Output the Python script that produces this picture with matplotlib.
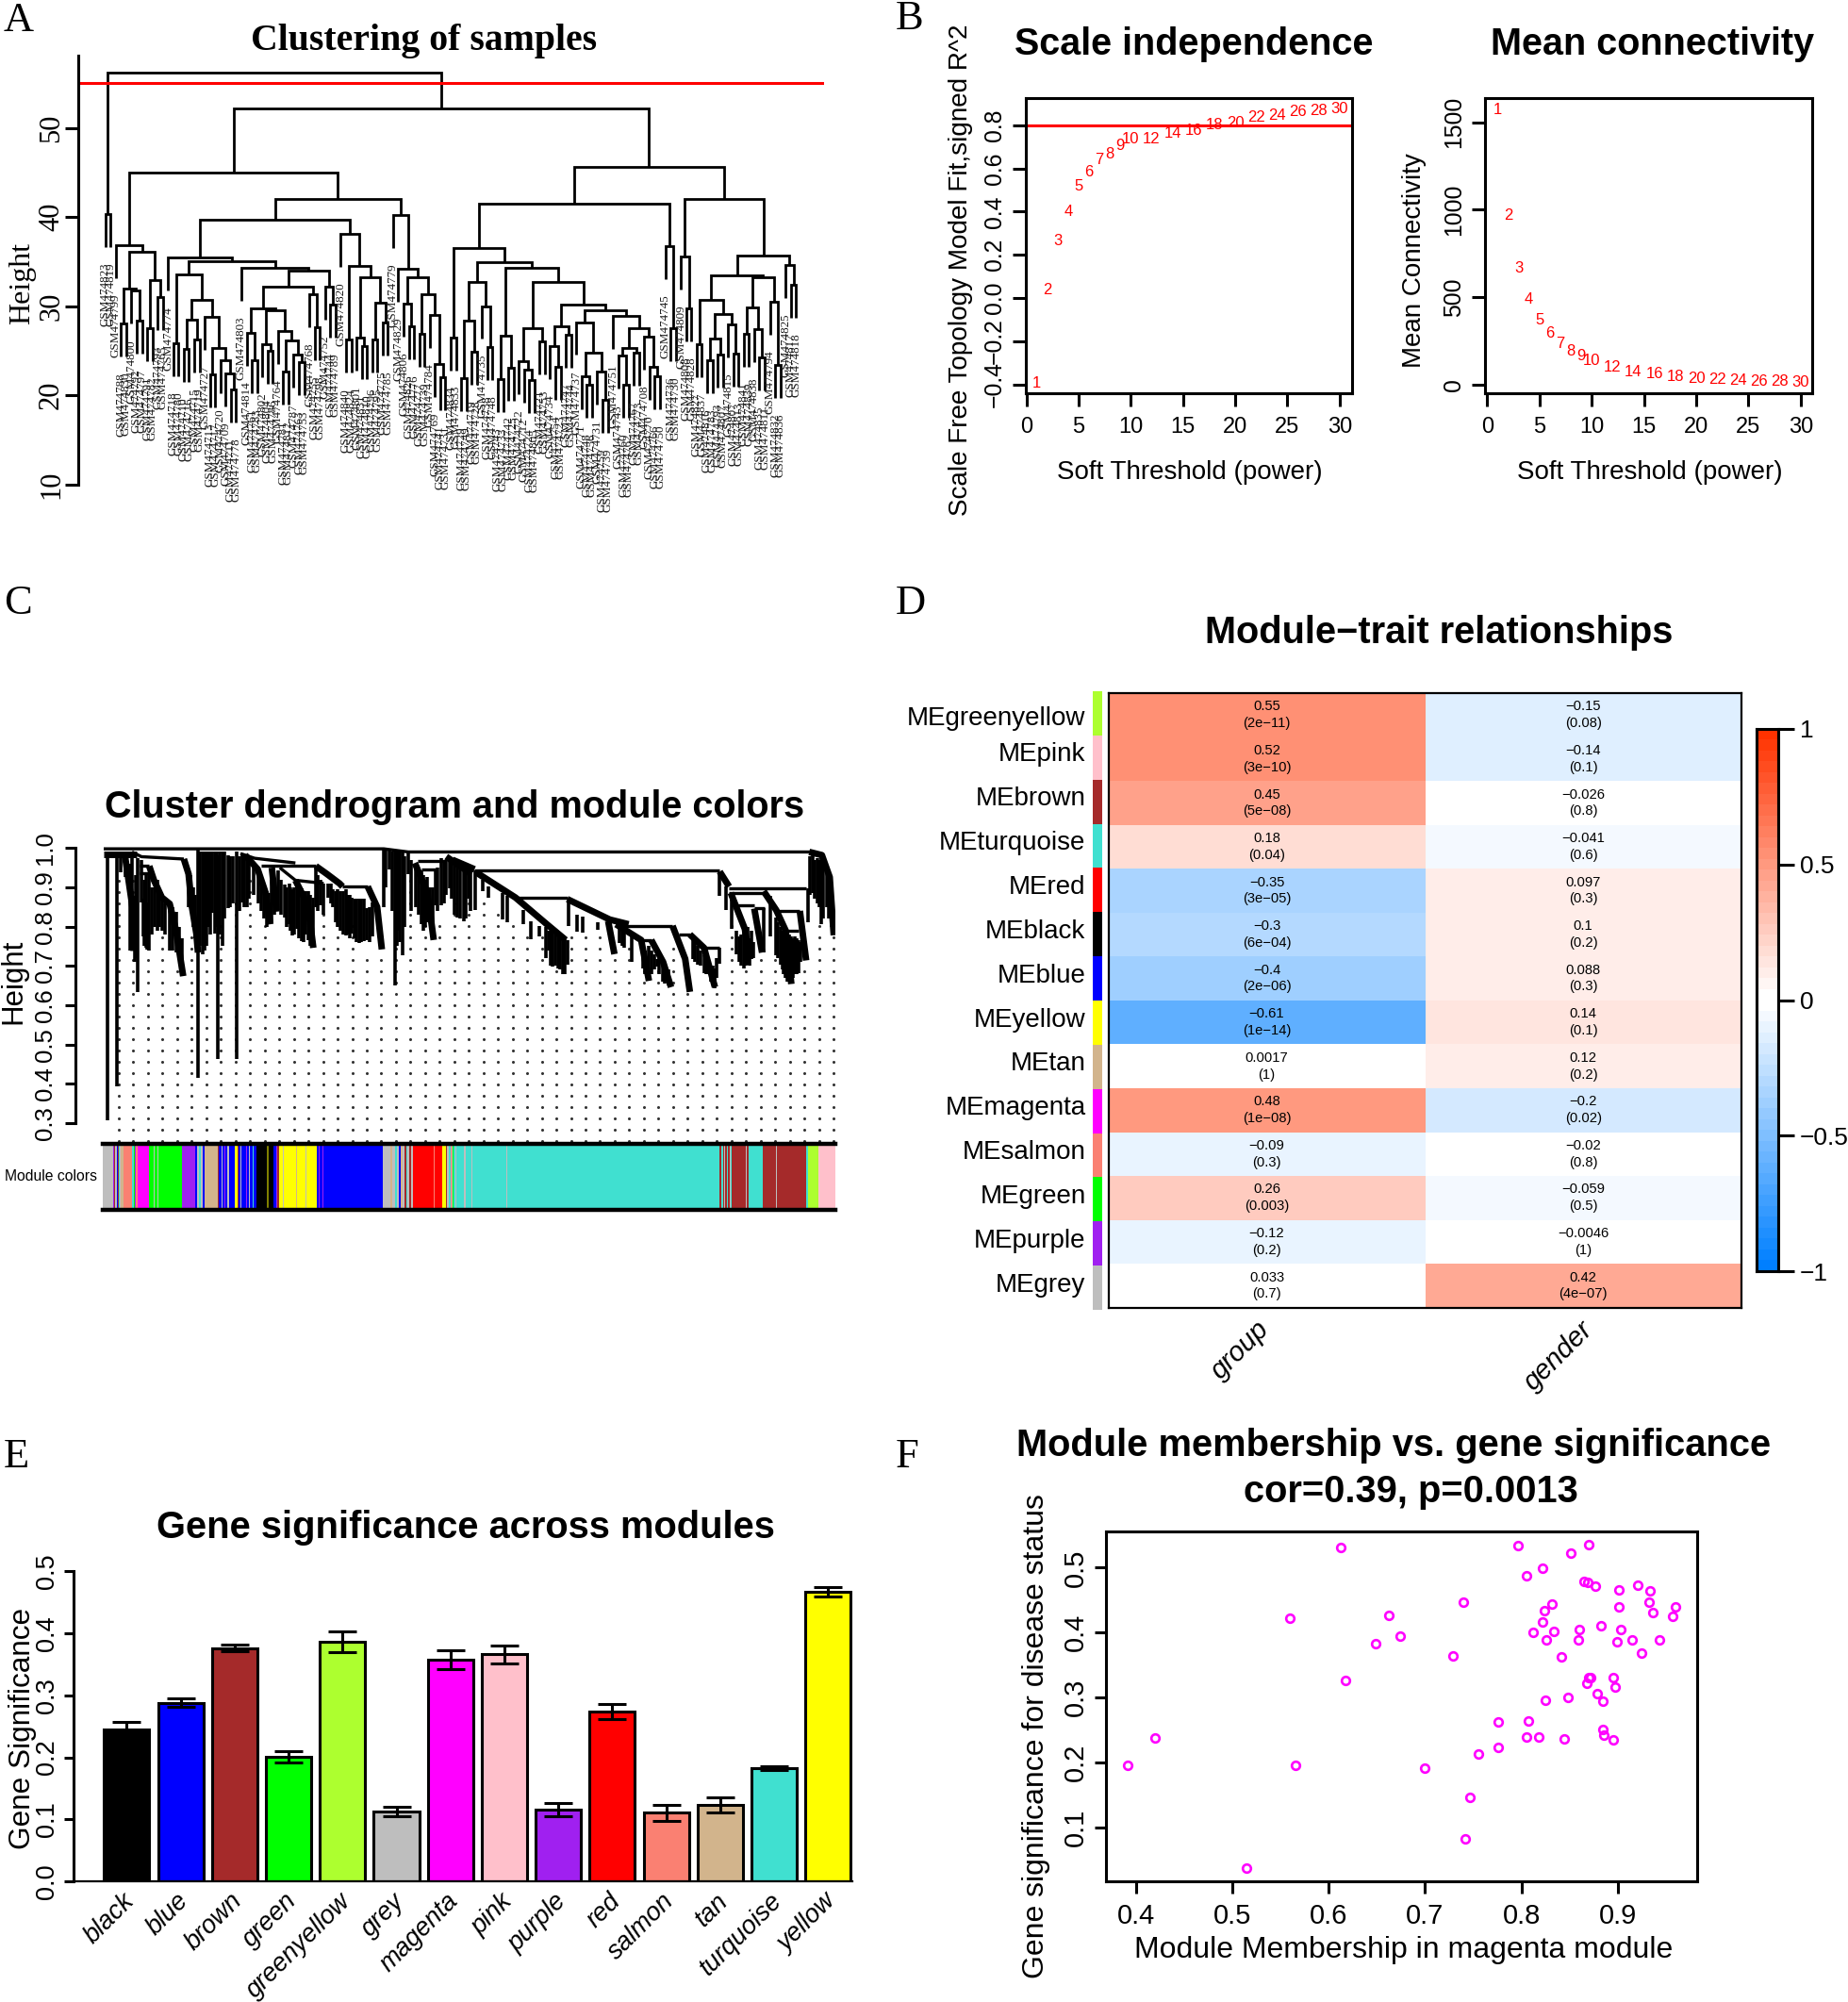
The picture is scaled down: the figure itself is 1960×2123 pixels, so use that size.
import numpy as np
import matplotlib
matplotlib.use("Agg")
import matplotlib.pyplot as plt
from matplotlib.colors import ListedColormap

plt.rcParams['font.family'] = ['Liberation Sans', 'DejaVu Sans']
SERIF = 'Liberation Serif'
W, H = 1960, 2123
LW = 2.2

# ---- A: sample tree, [height, left, right], 0 is a leaf
sample_ids = [823, 819, 799, 788, 830, 800, 792, 797, 791, 782,
              793, 765, 774, 718, 780, 710, 716, 715, 719, 727,
              713, 717, 720, 709, 711, 778, 803, 814, 761, 783,
              802, 804, 786, 764, 781, 812, 787, 763, 753, 768,
              755, 798, 752, 744, 789, 820, 840, 824, 801, 831,
              810, 796, 795, 775, 785, 779, 829, 806, 826, 776,
              777, 739, 784, 769, 741, 731, 834, 833, 729, 749,
              719, 728, 735, 738, 748, 743, 733, 742, 725, 722,
              712, 724, 805, 721, 753, 734, 754, 723, 747, 744,
              737, 771, 748, 756, 731, 759, 739, 751, 743, 760,
              762, 767, 773, 708, 770, 766, 750, 745, 736, 730,
              809, 808, 828, 827, 837, 816, 783, 793, 807, 815,
              807, 813, 841, 839, 838, 835, 811, 794, 832, 836,
              825, 817, 818]
HANG = 3.7
a1 = [36.8, 0, [36.1, [32.0, [28.0, 0, 0], [31.7, 0, [28.4, 0, 0]]], [32.9, [27.5, 0, 0], [31.0, 0, 0]]]]
b1 = [33.5, [25.8, 0, 0], [30.7, [28.5, [25.2, 0, 0], [26.2, 0, 0]], [28.8, 0, [25.3, [22.3, 0, 0], [23.9, 0, [22.4, 0, [20.6, 0, 0]]]]]]]
b2 = [34.3, 0, [34.0, [32.2, [29.7, [27.0, 0, [23.9, 0, 0]], [29.5, [25.7, 0, [25.0, 0, 0]], [27.2, 0, [26.1, [22.6, 0, 0], [24.5, 0, [23.7, 0, 0]]]]]], [31.3, 0, [27.6, 0, 0]]], [32.2, 0, [30.2, 0, 0]]]]
b3 = [38.1, 0, [34.5, [26.2, 0, 0], [33.2, [26.5, 0, [25.5, 0, 0]], [30.4, [26.2, 0, 0], [28.1, 0, 0]]]]]
b4 = [40.2, 0, [34.2, 0, [33.2, [30.3, 0, [27.7, 0, 0]], [31.3, [26.9, 0, 0], [29.0, 0, [23.5, 0, [22.0, 0, 0]]]]]]]
left45 = [45.0, a1, [42.0, [39.7, [35.4, 0, [35.0, b1, b2]], b3], b4]]
c2 = [32.65, [28.4, [21.9, 0, 0], [24.9, 0, 0]], [30.0, 0, [25.4, 0, 0]]]
c5 = [29.5, [28.2, 0, [24.8, [22.1, 0, [21.2, 0, 0]], [22.6, 0, [19.5, 0, 0]]]],
      [28.9, 0, [27.5, [25.3, [24.4, 0, [21.2, 0, 0]], [24.8, 0, 0]], [26.6, 0, [23.2, 0, [22.1, 0, 0]]]]]]
c4 = [32.65, [27.5, [23.8, 0, [22.9, 0, [21.7, 0, 0]]], [26.0, 0, 0]], [30.2, [27.7, [25.5, 0, [23.2, 0, 0]], [26.8, 0, 0]], c5]]
c3 = [34.3, [26.7, [21.8, 0, 0], [23.1, 0, 0]], c4]
c1 = [36.5, [26.5, 0, 0], [34.9, c2, c3]]
c6 = [36.75, 0, [27.5, 0, 0]]
d2 = [33.4, [30.7, [25.7, 0, 0], [29.1, [26.35, [23.9, 0, 0], [24.5, 0, 0]], [27.9, 0, [24.7, 0, 0]]]],
      [33.2, [29.8, [26.9, 0, 0], [27.4, 0, [24.2, 0, 0]]], [30.5, 0, [23.35, 0, 0]]]]
d3 = [34.6, 0, [32.4, 0, 0]]
right45 = [45.6, [41.5, c1, c6], [42.0, [35.6, 0, [29.7, 0, 0]], [35.7, d2, d3]]]
sample_tree = [56.2, [40.3, 0, 0], [52.2, left45, right45]]
cut_height = 55

# ---- B: soft threshold
powers = [1, 2, 3, 4, 5, 6, 7, 8, 9, 10, 12, 14, 16, 18, 20, 22, 24, 26, 28, 30]
fit_r2 = [-0.394, 0.039, 0.265, 0.402, 0.518, 0.585, 0.639, 0.667, 0.705, 0.736,
          0.738, 0.761, 0.775, 0.803, 0.812, 0.836, 0.847, 0.862, 0.866, 0.876]
mean_conn = [1573, 967, 663, 487, 371, 294, 237, 192, 163, 137,
             102, 75, 60, 48, 35, 29, 25, 21, 17, 15]

# ---- C: gene tree (gene position, height)
c_stems = [(5.3, .982, .308), (15.3, .978, .394), (19.3, .982, .938), (24.3, .982, .926), (31, .974, .738),
           (33.7, .878, .71), (37, .974, .634), (41, .97, .862), (42.7, .87, .774), (46, .934, .746),
           (47, .862, .742), (57.7, .918, .79), (62.7, .874, .79), (71, .858, .738), (78.3, .838, .734),
           (91, .942, .85), (101.3, .998, .414), (106, .99, .73), (110, .99, .75), (116, .99, .834),
           (119.3, .99, .782), (122, .982, .462), (126.7, .99, .75), (132.7, .982, .846), (142, .99, .464),
           (147.7, .982, .862), (152.7, .982, .85), (176, .886, .806), (186, .942, .842), (192.7, .906, .822),
           (197.7, .91, .806), (201, .894, .778), (206, .902, .794), (211, .898, .762), (217.7, .89, .766),
           (223.3, .874, .746), (231, .918, .854), (239.3, .91, .874), (244.3, .894, .85), (249.3, .894, .798),
           (257.7, .894, .778), (264.3, .874, .782), (271.7, .87, .758), (277, .87, .762), (280.3, .846, .766),
           (286, .862, .774), (297.7, .998, .85), (304.3, .994, .946), (310.3, .99, .65), (313.7, .99, .79),
           (317.7, .99, .726), (324.3, .986, .934), (337.7, .942, .806), (344.3, .926, .81), (352.7, .946, .854),
           (359.3, .974, .854), (367.7, .974, .898), (376, .958, .822), (382.7, .958, .814), (387.7, .942, .87),
           (395, .942, .842), (402.7, .918, .89), (408.7, .902, .874), (424.3, .886, .818), (429.3, .878, .812),
           (446, .842, .806), (454.3, .814, .768), (462.7, .802, .774), (472.7, .79, .738), (477, .79, .698),
           (482.7, .774, .694), (490.3, .77, .678), (492.7, .766, .702), (493.7, .866, .802), (502.7, .83, .786),
           (509.3, .826, .784), (525.3, .812, .792), (547.7, .806, .758), (553.3, .806, .746), (561, .774, .71),
           (572.7, .726, .694), (579.3, .75, .662), (587.7, .718, .698), (598.3, .694, .662), (626, .766, .718),
           (631, .75, .702), (637.7, .726, .682), (642.7, .71, .678), (649.3, .694, .642), (653.7, .746, .706),
           (653.7, .938, .878), (661, .902, .842), (667, .87, .794), (675, .774, .71), (680.3, .798, .694),
           (684.3, .798, .702), (688.3, .79, .718), (701, .846, .734), (707.7, .878, .774), (714.3, .822, .726),
           (719.3, .798, .702), (724.3, .79, .67), (730.3, .774, .654), (734.3, .774, .678), (737.7, .766, .682),
           (748.3, .898, .812), (752.7, .982, .886), (758.3, .974, .858), (761.7, .974, .806), (767.7, .942, .85)]
# the tight clumps between the stems above
c_clumps = [(29, .96, .74), (35, .93, .72), (44, .92, .75), (49, .93, .74), (52, .9, .78), (55, .9, .8),
            (60, .88, .8), (66, .86, .78), (74, .85, .74), (81, .8, .72), (84, .77, .68),
            (93, .93, .85), (96, .9, .8), (98, .88, .77), (103, .99, .75), (108, .99, .74), (112, .99, .8),
            (114, .99, .78), (121, .99, .8), (124, .99, .78), (129, .99, .82), (135, .98, .85), (138, .98, .86),
            (145, .98, .84), (150, .98, .85), (155, .97, .87), (160, .96, .88),
            (165, .94, .86), (168, .92, .84), (171, .9, .82), (174, .89, .8), (179, .92, .81), (182, .92, .83),
            (189, .92, .83), (195, .9, .8), (199, .9, .79), (203, .9, .78), (208, .9, .77), (213, .89, .76),
            (215, .89, .78), (220, .88, .75), (226, .95, .85), (228, .93, .84), (234, .91, .83), (242, .91, .86),
            (247, .89, .81), (252, .89, .79), (255, .89, .78), (260, .88, .78), (262, .88, .77), (267, .87, .77),
            (269, .87, .76), (274, .87, .76), (283, .85, .76),
            (300, .995, .9), (307, .99, .84), (312, .99, .75), (315, .99, .76), (320, .98, .8), (327, .97, .84),
            (332, .96, .85), (335, .95, .83), (340, .93, .79), (342, .92, .8), (347, .9, .82), (350, .9, .8),
            (355, .95, .84), (362, .97, .86), (364, .97, .88), (370, .97, .87), (373, .96, .83), (379, .96, .82),
            (385, .95, .82), (390, .94, .84),
            (470, .8, .72), (475, .79, .7), (480, .78, .7), (485, .77, .69), (488, .77, .68),
            (551, .8, .75), (575, .74, .68), (582, .74, .68), (585, .73, .69), (590, .72, .68), (594, .71, .66),
            (596, .7, .655), (600, .69, .65),
            (628, .76, .71), (634, .74, .7), (640, .72, .68), (645, .7, .66), (647, .7, .65), (651, .72, .67),
            (672, .79, .73), (677, .78, .7), (682, .78, .7), (686, .77, .7), (690, .76, .72),
            (716, .81, .72), (721, .79, .69), (722, .78, .68), (726, .78, .66), (728, .78, .66), (732, .77, .67),
            (736, .77, .68), (740, .76, .71),
            (750, .98, .88), (755, .97, .87), (760, .97, .85), (764, .96, .82), (770, .93, .82), (773, .88, .8)]
c_lines = [[(1, .998), (298, .998), (324, .99), (751, .99)], [(31, .99), (41, .978), (86, .972)],
           [(39.3, .954), (49.3, .954)], [(39.3, .936), (51, .936)],
           [(146, .986), (161, .974), (204.3, .962)], [(167.7, .954), (226, .954)],
           [(187.7, .95), (204.3, .918), (234.3, .91)], [(254.3, .902), (281, .902)],
           [(334.3, .966), (362.7, .966)], [(337.7, .946), (352.7, .946)], [(394.3, .942), (654.3, .942)],
           [(437.7, .874), (492.7, .874)], [(547.7, .802), (604.3, .802)], [(567.7, .766), (581.7, .766)],
           [(611, .78), (622.7, .78)], [(637.7, .746), (653.7, .746)], [(664.3, .898), (746, .898)],
           [(664.3, .886), (701, .886)], [(669.3, .854), (691, .854)], [(691, .846), (701.7, .846)],
           [(714.3, .84), (739.3, .84)], [(724.3, .79), (737.7, .79)]]
c_bundles = [[(1, .985), (36, .985)], [(23.7, .978), (32.7, .83), (32.7, .738)],
             [(49.3, .954), (54.3, .918), (62.7, .874), (71, .858), (77.7, .79), (85.3, .674)],
             [(86, .972), (91, .934), (94.3, .854), (99.3, .782), (101, .734)],
             [(151, .982), (164.3, .946), (172.7, .886), (177.7, .806)], [(179.3, .95), (184.3, .838)],
             [(226, .954), (237.7, .934), (251, .91), (254.3, .902)], [(281, .902), (291, .85), (296, .742)],
             [(204.3, .918), (217.7, .854), (223.3, .746)], [(331, .962), (344.3, .886), (351, .766)],
             [(364.3, .978), (391, .934)], [(371, .97), (394.3, .946)],
             [(396, .938), (437.7, .874), (471, .806), (491, .766)],
             [(492.7, .87), (537.7, .818), (557.7, .806)], [(536, .814), (542.7, .73)],
             [(544.3, .806), (571, .766), (579.3, .662)], [(581.7, .766), (594.3, .71), (602.7, .646)],
             [(604.3, .802), (617.7, .718), (622.7, .634)], [(622.7, .78), (637.7, .746), (649.3, .646)],
             [(654.3, .94), (664.3, .902)], [(666, .886), (681, .794), (686, .718)], [(691, .846), (699.3, .734)],
             [(701, .89), (714.3, .842), (724.3, .79), (730.3, .654)],
             [(749.3, .99), (762.7, .982), (771, .926), (775.3, .778)], [(739.3, .84), (746, .714)]]
guide_tops = [.942, .918, .83, .774, .714, .774, .742, .83, .886, .918, .83, .742, .742, .742, .854, .774, .83,
              .742, .742, .83, .918, .83, .83, .886, .918, .862, .858, .83, .774, .774, .686, .774, .774, .774,
              .718, .746, .686, .686, .746, .63, .654, .638, .83, .686, .726, .742, .654, .714, .83, .774]
wgcna_colors = {'grey': '#BEBEBE', 'purple': '#A020F0', 'brown': '#A52A2A', 'turquoise': '#40E0D0',
                'green': '#00FF00', 'tan': '#D2B48C', 'salmon': '#FA8072', 'blue': '#0000FF',
                'black': '#000000', 'yellow': '#FFFF00', 'magenta': '#FF00FF', 'red': '#FF0000',
                'pink': '#FFC0CB', 'greenyellow': '#ADFF2F', 'olive': '#808000'}
band_colors = ['grey', 'blue', 'grey', 'purple', 'brown', 'grey', 'blue', 'brown', 'turquoise', 'grey', 'tan',
               'salmon', 'turquoise', 'green', 'purple', 'salmon', 'magenta', 'green', 'grey', 'green', 'grey',
               'green', 'purple', 'blue', 'grey', 'turquoise', 'grey', 'blue', 'tan',
               'brown', 'blue', 'grey', 'blue', 'purple', 'blue', 'grey', 'blue', 'yellow', 'brown', 'blue', 'grey',
               'blue', 'purple', 'blue', 'grey', 'blue', 'turquoise', 'blue', 'black', 'olive', 'black',
               'blue', 'purple', 'brown', 'yellow', 'grey', 'yellow', 'tan', 'yellow', 'grey', 'yellow',
               'blue', 'purple', 'blue', 'purple', 'blue', 'grey', 'tan', 'grey', 'turquoise', 'grey', 'blue', 'tan',
               'grey', 'brown', 'turquoise', 'grey', 'brown', 'grey', 'red', 'salmon', 'red', 'salmon', 'red',
               'yellow', 'brown', 'grey', 'turquoise', 'salmon', 'grey', 'green', 'turquoise', 'grey', 'turquoise',
               'grey', 'turquoise', 'grey', 'turquoise', 'grey', 'turquoise',
               'brown', 'turquoise', 'brown', 'grey', 'brown', 'turquoise', 'brown', 'grey', 'turquoise',
               'brown', 'grey', 'brown', 'turquoise', 'turquoise', 'brown', 'grey', 'brown', 'grey', 'brown', 'grey',
               'brown', 'turquoise', 'greenyellow', 'pink']
band_genes = [17, 1, 4, 2, 2, 3, 2, 3, 2, 2, 4,
              18, 4, 3, 2, 3, 23, 10, 2, 6, 2,
              49, 28, 3, 4, 3, 4, 4, 27,
              3, 5, 3, 3, 2, 5, 3, 11, 7, 2, 4, 2,
              10, 2, 3, 2, 6, 2, 5, 23, 4, 8,
              6, 2, 4, 8, 2, 25, 2, 18, 2, 21,
              4, 2, 6, 3, 122, 15, 4, 6, 4, 5, 3, 4,
              4, 3, 3, 4, 4, 4, 15, 1, 27, 1, 16,
              8, 2, 3, 4, 2, 2, 3, 3, 2, 16,
              3, 13, 2, 70, 1, 439,
              5, 2, 3, 2, 4, 2, 4, 2, 1,
              30, 2, 4, 2, 27, 28, 2, 30, 1, 20, 1,
              8, 4, 21, 35]

# ---- D: module-trait table
me_names = ['greenyellow', 'pink', 'brown', 'turquoise', 'red', 'black', 'blue', 'yellow', 'tan',
            'magenta', 'salmon', 'green', 'purple', 'grey']
cor_group = [0.55, 0.52, 0.45, 0.18, -0.35, -0.3, -0.4, -0.61, 0.0017, 0.48, -0.09, 0.26, -0.12, 0.033]
p_group = ['2e-11', '3e-10', '5e-08', '0.04', '3e-05', '6e-04', '2e-06', '1e-14', '1', '1e-08', '0.3', '0.003', '0.2', '0.7']
cor_gender = [-0.15, -0.14, -0.026, -0.041, 0.097, 0.1, 0.088, 0.14, 0.119, -0.2, -0.02, -0.059, -0.0046, 0.42]
p_gender = ['0.08', '0.1', '0.8', '0.6', '0.3', '0.2', '0.3', '0.1', '0.2', '0.02', '0.8', '0.5', '1', '4e-07']
traits = ['group', 'gender']

# ---- E: gene significance
modules = ['black', 'blue', 'brown', 'green', 'greenyellow', 'grey', 'magenta', 'pink', 'purple', 'red',
           'salmon', 'tan', 'turquoise', 'yellow']
gs_mean = [.2455, .288, .376, .201, .386, .113, .357, .366, .1157, .274, .1106, .123, .182, .4657]
gs_se = [.0115, .0075, .006, .0095, .017, .008, .0145, .0143, .01, .012, .0133, .012, .003, .0075]

# ---- F: magenta module genes
mm = [.6128, .7962, .8692, .8507, .8213, .8047, .8645, .8687, .8763, .9005, .9209, .9327, .9322, .9597, .9569,
      .9365, .9005, .8313, .8232, .7398, .6621, .5597, .6744, .6483, .8213, .8118, .8332, .8256, .8597, .8588,
      .8820, .9024, .8986, .9142, .9431, .9246, .8408, .7289, .6175, .8953, .8972, .8716, .8692, .8678, .8782,
      .8839, .8479, .8242, .7754, .8071, .8844, .8853, .8953, .8441, .8180, .8047, .7754, .7550, .4199, .3919,
      .5659, .7000, .7460, .7417, .5152]
gs = [.5305, .5344, .5358, .5218, .4985, .4879, .4792, .4772, .4714, .4656, .4729, .4637, .4462, .4390, .4254,
      .4308, .4400, .4438, .4332, .4467, .4269, .4215, .3949, .3828, .4167, .4007, .4012, .3891, .4041, .3881,
      .4099, .4046, .3852, .3881, .3881, .3678, .3630, .3644, .3257, .3305, .3155, .3305, .33, .3223, .3063,
      .2947, .2995, .2956, .2622, .2642, .2501, .2419, .2346, .2356, .2385, .2390, .2225, .2124, .2375, .1959,
      .1959, .1906, .1465, .0821, .0375]

fig = plt.figure(figsize=(W / 100, H / 100), dpi=100, facecolor='white')


def axpx(l, t, r, b):
    return fig.add_axes([l / W, 1 - b / H, (r - l) / W, (b - t) / H])


def ftext(x, y, s, **kw):
    kw.setdefault('ha', 'center')
    kw.setdefault('va', 'center')
    return fig.text(x / W, 1 - y / H, s, **kw)


def rstyle(ax, ticklen=10):
    ax.tick_params(length=ticklen, width=LW)
    for s in ax.spines.values():
        s.set_linewidth(LW)


def rot_yticks(ax, pos, labels, size, pad, **kw):
    ax.set_yticks(pos)
    ax.set_yticklabels(labels, rotation=90, va='center', fontsize=size, **kw)
    ax.tick_params(axis='y', pad=pad)


for letter, x, y in [('A', 4, 22), ('B', 950, 20), ('C', 4, 640), ('D', 950, 640), ('E', 4, 1545), ('F', 950, 1545)]:
    ftext(x, y, letter, ha='left', family=SERIF, fontsize=32)

# A
ax = axpx(83, 59, 874, 560)
ax.set_xlim(-5.17, 137.35)
ax.set_ylim(5.08, 58.1)
labels = iter(sample_ids)
leaf_no = [0]


def draw_node(node, parent_h):
    if node == 0:
        x = leaf_no[0]
        leaf_no[0] += 1
        end = parent_h - HANG
        ax.text(x, end - 1.75, 'GSM474%d' % next(labels), rotation=90, ha='center', va='top',
                family=SERIF, fontsize=9.4, color='#1a1a1a', clip_on=False)
        return x, end
    lx, ly = draw_node(node[1], node[0])
    rx, ry = draw_node(node[2], node[0])
    ax.plot([lx, lx, rx, rx], [ly, node[0], node[0], ry], color='black', lw=2.0, solid_joinstyle='miter',
            solid_capstyle='butt')
    return (lx + rx) / 2, node[0]


draw_node(sample_tree, 60)
ax.axhline(cut_height, color='#FF0000', lw=2.2)
for s in ['top', 'right', 'bottom']:
    ax.spines[s].set_visible(False)
ax.spines['left'].set_bounds(10, 58.1)
rstyle(ax)
ax.set_xticks([])
rot_yticks(ax, [10, 20, 30, 40, 50], ['10', '20', '30', '40', '50'], 22, 0, family=SERIF)
ftext(24, 300, 'Height', rotation=90, family=SERIF, fontsize=23)
ftext(450, 43, 'Clustering of samples', family=SERIF, fontsize=28.6, fontweight='bold')

# B
xt = [0, 5, 10, 15, 20, 25, 30]
ax = axpx(1087.5, 103.6, 1434, 416.8)
ax.set_xlim(-0.1, 31.2)
ax.set_ylim(-0.44, 0.928)
for p, v in zip(powers, fit_r2):
    ax.text(p, v, str(p), color='#FF0000', fontsize=12, ha='center', va='center')
ax.axhline(0.8, color='#FF0000', lw=2.2)
rstyle(ax)
ax.set_xticks(xt)
ax.set_xticklabels([str(v) for v in xt], fontsize=17)
ax.tick_params(axis='x', pad=8)
rot_yticks(ax, [-0.4, -0.2, 0, 0.2, 0.4, 0.6, 0.8], ['\u22120.4', '\u22120.2', '0.0', '0.2', '0.4', '0.6', '0.8'], 17.8, 5)
ftext(1019, 286, 'Scale Free Topology Model Fit,signed R^2', rotation=90, fontsize=20.1)
ftext(1266, 47, 'Scale independence', fontsize=28.5, fontweight='bold')
ftext(1262, 501, 'Soft Threshold (power)', fontsize=20)

ax = axpx(1575, 103.6, 1922, 416.8)
ax.set_xlim(-0.2, 31.1)
ax.set_ylim(-47, 1640)
for p, v in zip(powers, mean_conn):
    ax.text(p, v, str(p), color='#FF0000', fontsize=12, ha='center', va='center')
rstyle(ax)
ax.set_xticks(xt)
ax.set_xticklabels([str(v) for v in xt], fontsize=17)
ax.tick_params(axis='x', pad=8)
rot_yticks(ax, [0, 500, 1000, 1500], ['0', '500', '1000', '1500'], 17.8, 5)
ftext(1500, 276, 'Mean Connectivity', rotation=90, fontsize=20)
ftext(1753, 47, 'Mean connectivity', fontsize=28.5, fontweight='bold')
ftext(1750, 501, 'Soft Threshold (power)', fontsize=20)

# C
ax = axpx(109, 890, 886, 1213)
ax.set_xlim(0, 777)
ax.set_ylim(.2472, 1.0223)
for g, top in zip(np.linspace(17, 775, 50), guide_tops):
    rows = np.arange(.254, top, .0288)
    ax.plot(np.full(len(rows), g), rows, ls='none', marker='o', ms=2.2, mew=0, color='#333333')
for g, top, bottom in c_stems + c_clumps:
    ax.plot([g, g], [top, bottom], color='black', lw=2.6, solid_capstyle='butt')
for line in c_lines:
    xs, ys = zip(*line)
    ax.plot(xs, ys, color='black', lw=2.4, solid_capstyle='butt')
for line in c_bundles:
    xs, ys = zip(*line)
    ax.plot(xs, ys, color='black', lw=5, solid_capstyle='butt')
for s in ['top', 'right', 'bottom']:
    ax.spines[s].set_visible(False)
ax.spines['left'].set_position(('outward', 21))
ax.spines['left'].set_bounds(.3, 1.0)
rstyle(ax, 8)
ax.set_xticks([])
ct = [.3, .4, .5, .6, .7, .8, .9, 1.0]
rot_yticks(ax, ct, ['%.1f' % v for v in ct], 18.5, 6)
ftext(14, 1041, 'Height', rotation=90, fontsize=22.5)
ftext(482, 856, 'Cluster dendrogram and module colors', fontsize=28.5, fontweight='bold')

ax = axpx(109, 1213, 886, 1283)
left = 0
for name, n in zip(band_colors, band_genes):
    ax.barh(0, n, left=left, height=1, color=wgcna_colors[name], lw=0)
    left += n
ax.set_xlim(0, left)
ax.set_ylim(-.5, .5)
ax.axhline(.5, color='black', lw=3.2, clip_on=False)
ax.axhline(-.5, color='black', lw=3.2, clip_on=False)
ax.axis('off')
ftext(54, 1248, 'Module colors', fontsize=11.3)

# D
step = np.linspace(-0.98, 0.98, 50)
ramp = np.clip((np.abs(step) - 0.02) / 0.96, 0, 1)
level_colors = [(1 - r, 1 - r * 0.5, 1) if s < 0 else (1, 1 - r * 0.8, 1 - r) for s, r in zip(step, ramp)]
cmap = ListedColormap(level_colors)

cors = np.array([cor_group, cor_gender]).T
ax = axpx(1175.7, 735, 1847, 1386.7)
ax.imshow(cors, cmap=cmap, vmin=-1, vmax=1, aspect='auto', interpolation='nearest')
for i in range(len(me_names)):
    for j, (cor, p) in enumerate(zip([cor_group[i], cor_gender[i]], [p_group[i], p_gender[i]])):
        ax.text(j, i - .19, ('%.2g' % cor).replace('-', '\u2212'), ha='center', va='center', fontsize=10.6)
        ax.text(j, i + .19, '(%s)' % p.replace('-', '\u2212'), ha='center', va='center', fontsize=10.6)
ax.set_yticks([])
ax.set_xticks([-.033, .988])
ax.set_xticklabels(traits, rotation=45, ha='right', va='top', rotation_mode='anchor', style='italic', fontsize=21)
ax.tick_params(axis='x', length=0, pad=6.5)
for s in ax.spines.values():
    s.set_linewidth(1.6)

ax = axpx(1159, 733, 1169, 1389)
ax.barh(range(len(me_names)), 1, height=1, color=[wgcna_colors[m] for m in me_names], lw=0)
ax.set_xlim(0, 1)
ax.set_ylim(len(me_names) - .5, -.5)
ax.set_xticks([])
ax.set_yticks([])
for i, m in enumerate(me_names):
    ax.text(-.75, i + (.12 if i == 0 else -.06), 'ME' + m, ha='right', va='center', fontsize=20, clip_on=False)
for s in ax.spines.values():
    s.set_visible(False)
ftext(1526, 671, 'Module\u2212trait relationships', fontsize=28.6, fontweight='bold')

ax = axpx(1862.5, 773, 1885.5, 1348)
ax.imshow(step[::-1, None], cmap=cmap, vmin=-1, vmax=1, aspect='auto', extent=[0, 1, -1, 1], interpolation='nearest')
ax.set_xticks([])
ax.yaxis.tick_right()
ax.set_yticks([-1, -.5, 0, .5, 1])
ax.set_yticklabels(['\u22121', '\u22120.5', '0', '0.5', '1'], fontsize=19)
ax.tick_params(axis='y', length=12, width=LW, pad=5)
for s in ax.spines.values():
    s.set_linewidth(LW)

# E
ax = axpx(78, 1650, 904, 1995.3)
ax.bar(range(len(modules)), gs_mean, width=.84, color=[wgcna_colors[m] for m in modules], edgecolor='black', lw=2.2)
ax.errorbar(range(len(modules)), gs_mean, yerr=gs_se, fmt='none', ecolor='black', elinewidth=2.2, capsize=10.8,
            capthick=2.2)
ax.set_xlim(-.986, 13.45)
ax.set_ylim(0, .524)
ax.spines['top'].set_visible(False)
ax.spines['right'].set_visible(False)
ax.spines['left'].set_bounds(0, .5)
rstyle(ax, 7)
ax.spines['bottom'].set_linewidth(1.6)
ax.set_xticks(np.arange(len(modules)) - .08)
ax.set_xticklabels(modules, rotation=45, ha='right', va='top', rotation_mode='anchor', style='italic', fontsize=19.5)
ax.tick_params(axis='x', length=0, pad=5.5)
et = [0, .1, .2, .3, .4, .5]
rot_yticks(ax, et, ['%.1f' % v for v in et], 19.5, 4)
ftext(24, 1833, 'Gene Significance', rotation=90, fontsize=22.7)
ftext(494, 1620, 'Gene significance across modules', fontsize=28.7, fontweight='bold')

# F
ax = axpx(1173, 1624, 1800, 1994.7)
ax.plot(mm, gs, ls='none', marker='o', ms=6.2, mfc='none', mec='#FF00FF', mew=1.9)
ax.set_xlim(.3692, .982)
ax.set_ylim(.0172, .5557)
rstyle(ax, 9)
ft = [.4, .5, .6, .7, .8, .9]
ax.set_xticks(ft)
ax.set_xticklabels(['%.1f' % v for v in ft], fontsize=21)
ax.tick_params(axis='x', pad=8)
gt = [.1, .2, .3, .4, .5]
rot_yticks(ax, gt, ['%.1f' % v for v in gt], 21, 4)
ftext(1099, 1841, 'Gene significance for disease status', rotation=90, fontsize=23)
ftext(1489, 2068, 'Module Membership in magenta module', fontsize=23)
ftext(1478, 1533, 'Module membership vs. gene significance', fontsize=28.7, fontweight='bold')
ftext(1496, 1582, 'cor=0.39, p=0.0013', fontsize=28.7, fontweight='bold')

fig.savefig('out.png', dpi=100, facecolor='white')
